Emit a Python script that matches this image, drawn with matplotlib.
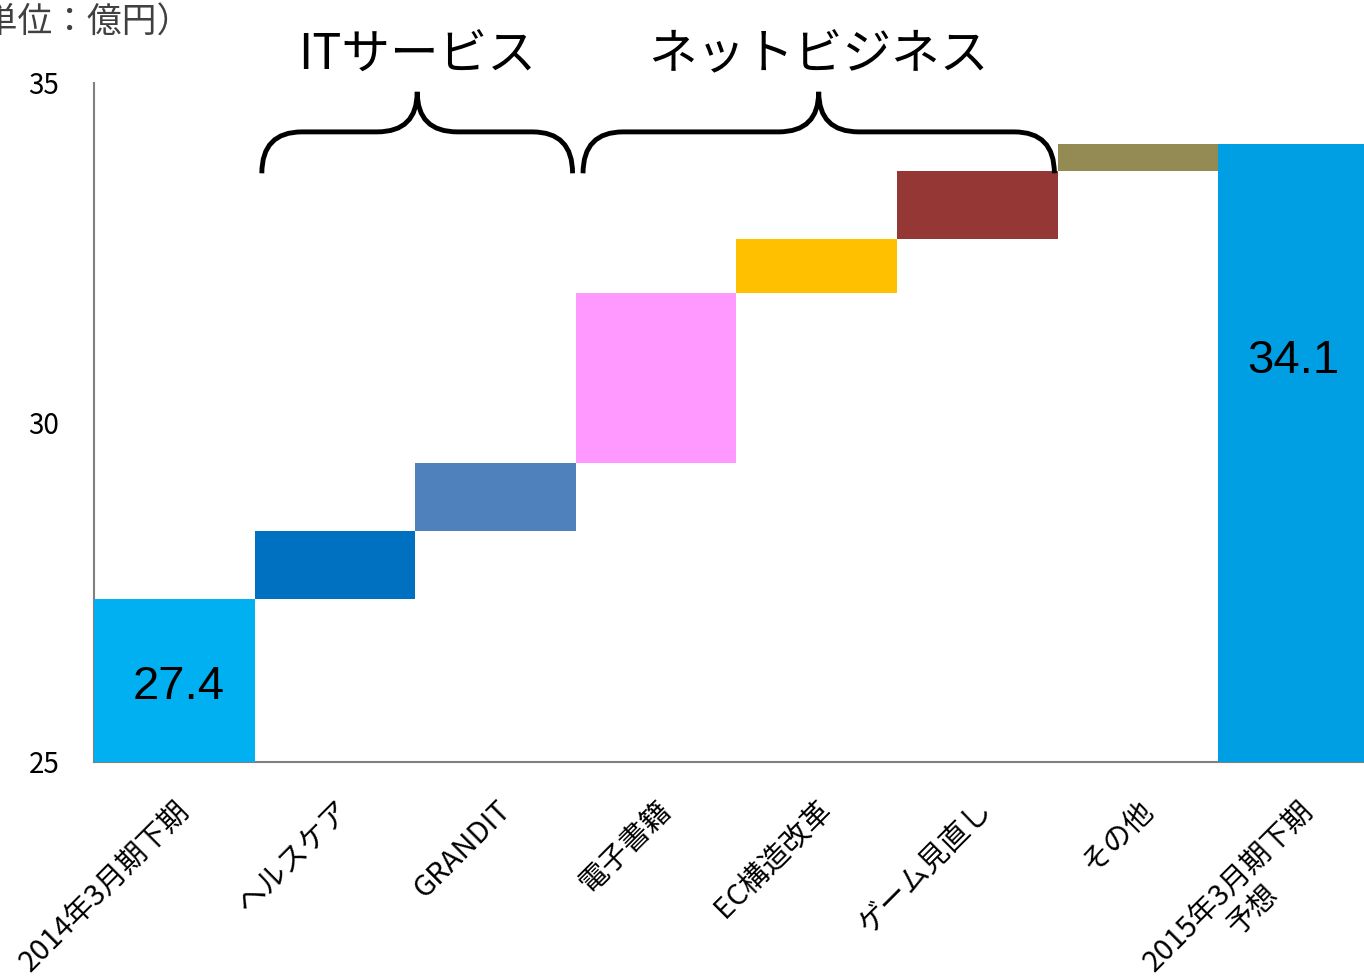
import matplotlib
matplotlib.use("Agg")
import matplotlib.pyplot as plt
from matplotlib.path import Path
from matplotlib.patches import PathPatch

plt.rcParams['font.family'] = ['Noto Sans CJK JP', 'DejaVu Sans']

# data (unit: 100 million yen)
categories = ['2014年3月期下期', 'ヘルスケア', 'GRANDIT', '電子書籍', 'EC構造改革',
              'ゲーム見直し', 'その他', '2015年3月期下期\n予想']
start_value = 27.4
deltas = [1.0, 1.0, 2.5, 0.8, 1.0, 0.4]
end_value = 34.1
colors = ['#00B0F0', '#0070C0', '#4F81BD', '#FF99FF', '#FFC000',
          '#953735', '#948A54', '#009FE3']

# brace groups: label, first category, last category
groups = [('ITサービス', 1, 2), ('ネットビジネス', 3, 5)]

# bottoms / heights of the waterfall
bottoms = [0]
heights = [start_value]
level = start_value
for d in deltas:
    bottoms.append(level)
    heights.append(d)
    level += d
bottoms.append(0)
heights.append(end_value)

fig = plt.figure(figsize=(13.64, 9.8), dpi=100)
ax = fig.add_axes([94 / 1364, 1 - 762 / 980, 8 * 160.6 / 1364, (762 - 83) / 980])

x = list(range(len(categories)))
ax.bar(x, heights, bottom=bottoms, width=1.0, color=colors, linewidth=0, zorder=2)

ax.set_xlim(-0.5, len(categories) - 0.5)
ax.set_ylim(25, 35)
ax.set_yticks([25, 30, 35])
ax.tick_params(axis='y', length=0, pad=25, labelsize=20)
ax.tick_params(axis='x', length=0, pad=24)
ax.set_xticks(x)
ax.set_xticklabels(categories, rotation=45, ha='right', va='top',
                   rotation_mode='anchor', fontsize=21, multialignment='center')

for s in ['top', 'right']:
    ax.spines[s].set_visible(False)
for s in ['left', 'bottom']:
    ax.spines[s].set_color('#808080')
    ax.spines[s].set_linewidth(1.5)
    ax.spines[s].set_zorder(1)

# value labels on the total bars
ax.text(0.03, 26.1, f'{start_value:.1f}', ha='center', va='center',
        fontsize=34, family='Liberation Sans', zorder=3)
ax.text(len(categories) - 1.03, 30.9, f'{end_value:.1f}', ha='center', va='center',
        fontsize=34, family='Liberation Sans', zorder=3)


def draw_brace(ax, x0, x1, y_base, y_line, y_tip, r):
    xc = (x0 + x1) / 2
    verts = [(x0, y_base), (x0, y_line), (x0 + r, y_line),
             (xc - r, y_line),
             (xc, y_line), (xc, y_tip),
             (xc, y_line), (xc + r, y_line),
             (x1 - r, y_line),
             (x1, y_line), (x1, y_base)]
    codes = [Path.MOVETO, Path.CURVE3, Path.CURVE3,
             Path.LINETO,
             Path.CURVE3, Path.CURVE3,
             Path.CURVE3, Path.CURVE3,
             Path.LINETO,
             Path.CURVE3, Path.CURVE3]
    ax.add_patch(PathPatch(Path(verts, codes), fill=False, lw=3.5,
                           edgecolor='black', clip_on=False, zorder=4,
                           capstyle='butt'))
    return xc


for label, i0, i1 in groups:
    xc = draw_brace(ax, i0 - 0.455, i1 + 0.48, 33.67, 34.28, 34.87, 0.25)
    ax.text(xc, 35.4, label, ha='center', va='center', fontsize=35,
            clip_on=False)

fig.text(-51 / 1364, 0.976, '（単位：億円）', ha='left', va='center',
         fontsize=25, color='#404040')

fig.savefig('out.png', dpi=100)
